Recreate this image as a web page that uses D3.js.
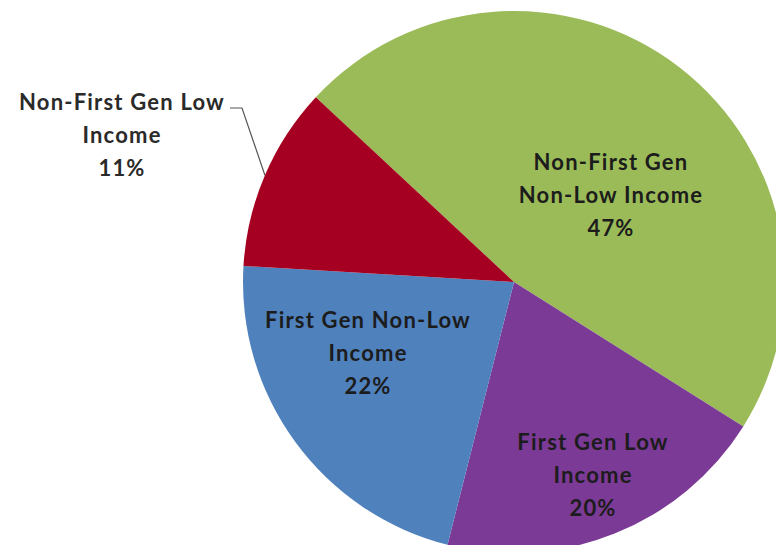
<!DOCTYPE html>
<html>
<head>
<meta charset="utf-8">
<script src="https://cdn.jsdelivr.net/npm/d3@7"></script>
<style>
  html, body { margin: 0; padding: 0; background: #ffffff; }
  svg { display: block; }
  text { font-family: Lato, "Open Sans", sans-serif; font-weight: 700; }
</style>
</head>
<body>
<svg id="chart" width="776" height="545"></svg>
<script>
// ---- data ----
const categories = [
  "Non-First Gen Non-Low Income",
  "First Gen Low Income",
  "First Gen Non-Low Income",
  "Non-First Gen Low Income"
];
const values = [47, 20, 22, 11];
const labelLines = [
  ["Non-First Gen", "Non-Low Income"],
  ["First Gen Low", "Income"],
  ["First Gen Non-Low", "Income"],
  ["Non-First Gen Low", "Income"]
];
const percentLabels = ["47%", "20%", "22%", "11%"];

// ---- layout / style ----
const colors = ["#9BBB59", "#7B3A96", "#4F81BD", "#A50021"];
const W = 776, H = 545;
const cx = 514, cy = 282, R = 271;
const startDeg = -47;
// label centres (offset from pie centre) of the first text line
const labelOffsets = [[97, -120], [79, 160], [-146, 38], [-392, -180]];
const lineGap = 33;

const svg = d3.select("#chart");
svg.append("rect").attr("width", W).attr("height", H).attr("fill", "#fff");

const g = svg.append("g").attr("transform", `translate(${cx},${cy})`);

const pie = d3.pie().sort(null).value(d => d)
  .startAngle(startDeg * Math.PI / 180)
  .endAngle(startDeg * Math.PI / 180 + 2 * Math.PI);
const arcs = pie(values);
const arc = d3.arc().innerRadius(0).outerRadius(R);

g.selectAll("path.slice")
  .data(arcs)
  .join("path")
  .attr("class", "slice")
  .attr("d", arc)
  .attr("fill", (d, i) => colors[i]);

// leader line for the outside label (Non-First Gen Low Income)
const redArc = arcs[3];
const redMid = (redArc.startAngle + redArc.endAngle) / 2;
const edgePt = [R * Math.sin(redMid), -R * Math.cos(redMid)];
g.append("polyline")
  .attr("points", [[-284, -174], [-272, -174], edgePt].map(p => p.join(",")).join(" "))
  .attr("fill", "none")
  .attr("stroke", "#555")
  .attr("stroke-width", 1.2);

// labels
arcs.forEach((a, i) => {
  const [ox, oy] = labelOffsets[i];
  const t = g.append("text")
    .attr("text-anchor", "middle")
    .attr("font-size", 22)
    .attr("letter-spacing", "1.2px")
    .attr("fill", i === 3 ? "#2a2a2a" : "#1c1c1c");
  const lines = labelLines[i].concat([percentLabels[i]]);
  lines.forEach((ln, k) => {
    t.append("tspan")
      .attr("x", ox)
      .attr("y", oy + k * lineGap)
      .attr("dy", "0.35em")
      .text(ln);
  });
});
</script>
</body>
</html>
